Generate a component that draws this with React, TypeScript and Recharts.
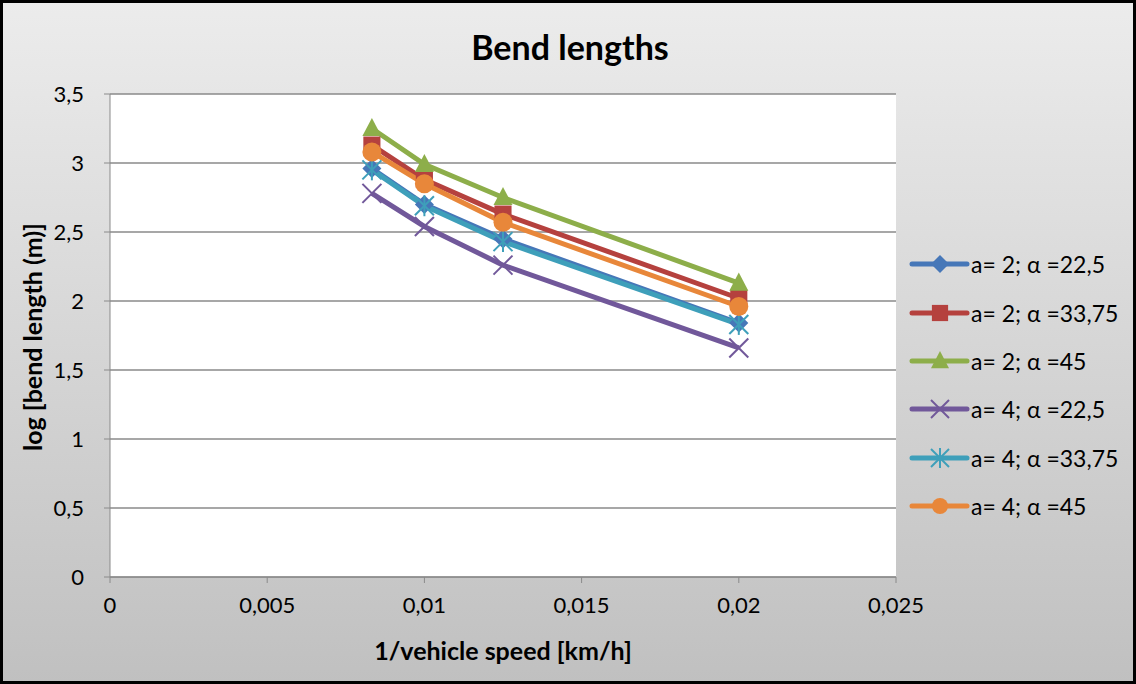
import { LineChart, Line, XAxis, YAxis, CartesianGrid } from 'recharts';

// 1/vehicle speed (speeds 120, 100, 80, 50 km/h)
const xValues = [0.00833, 0.01, 0.0125, 0.02];

const a2Alpha225 = [2.96, 2.7, 2.45, 1.84];
const a2Alpha3375 = [3.13, 2.88, 2.63, 2.02];
const a2Alpha45 = [3.25, 2.99, 2.75, 2.13];
const a4Alpha225 = [2.78, 2.54, 2.26, 1.66];
const a4Alpha3375 = [2.95, 2.69, 2.43, 1.83];
const a4Alpha45 = [3.08, 2.85, 2.57, 1.96];

const xTicks = [0, 0.005, 0.01, 0.015, 0.02, 0.025];
const yTicks = [0, 0.5, 1, 1.5, 2, 2.5, 3, 3.5];

const series = [
  { key: 's1', name: 'a= 2; α =22,5', values: a2Alpha225, color: '#4677B8', shape: 'diamond' },
  { key: 's2', name: 'a= 2; α =33,75', values: a2Alpha3375, color: '#B5413E', shape: 'square' },
  { key: 's3', name: 'a= 2; α =45', values: a2Alpha45, color: '#8DAE4A', shape: 'triangle' },
  { key: 's4', name: 'a= 4; α =22,5', values: a4Alpha225, color: '#71589A', shape: 'x' },
  { key: 's5', name: 'a= 4; α =33,75', values: a4Alpha3375, color: '#3E9FBA', shape: 'star' },
  { key: 's6', name: 'a= 4; α =45', values: a4Alpha45, color: '#E8873A', shape: 'circle' },
];

const chartData = xValues.map((x, i) => {
  const row: any = { x };
  series.forEach((s) => {
    row[s.key] = s.values[i];
  });
  return row;
});

const FONT = 'Lato, "Open Sans", sans-serif';
const fmt = (v: number) => String(v).replace('.', ',');

function Marker({ shape, color, cx, cy, s }: { shape: string; color: string; cx: number; cy: number; s: number }) {
  switch (shape) {
    case 'diamond':
      return <polygon points={`${cx},${cy - s} ${cx + s},${cy} ${cx},${cy + s} ${cx - s},${cy}`} fill={color} />;
    case 'square':
      return <rect x={cx - s * 0.9} y={cy - s * 0.9} width={s * 1.8} height={s * 1.8} fill={color} />;
    case 'triangle':
      return <polygon points={`${cx},${cy - s * 1.1} ${cx + s},${cy + s * 0.8} ${cx - s},${cy + s * 0.8}`} fill={color} />;
    case 'x':
      return (
        <g stroke={color} strokeWidth={2}>
          <line x1={cx - s} y1={cy - s} x2={cx + s} y2={cy + s} />
          <line x1={cx - s} y1={cy + s} x2={cx + s} y2={cy - s} />
        </g>
      );
    case 'star':
      return (
        <g stroke={color} strokeWidth={2}>
          <line x1={cx - s} y1={cy - s} x2={cx + s} y2={cy + s} />
          <line x1={cx - s} y1={cy + s} x2={cx + s} y2={cy - s} />
          <line x1={cx} y1={cy - s * 1.1} x2={cx} y2={cy + s * 1.1} />
        </g>
      );
    default:
      return <circle cx={cx} cy={cy} r={s} fill={color} />;
  }
}

const makeDot = (shape: string, color: string) => (props: any) => {
  const { cx, cy, index } = props;
  if (cx == null || cy == null) return <g key={index} />;
  return (
    <g key={index}>
      <Marker shape={shape} color={color} cx={cx} cy={cy} s={9.5} />
    </g>
  );
};

const ChartLegend = () => (
  <div style={{ position: 'absolute', left: 908, top: 240, fontFamily: FONT, fontSize: 23, color: '#000' }}>
    {series.map((s) => (
      <div key={s.key} style={{ display: 'flex', alignItems: 'center', height: 48.4 }}>
        <svg width={62} height={24} style={{ marginRight: 1 }}>
          <line x1={4} y1={12} x2={59} y2={12} stroke={s.color} strokeWidth={5} strokeLinecap="round" />
          <Marker shape={s.shape} color={s.color} cx={32} cy={12} s={s.shape === 'circle' ? 8 : 9} />
        </svg>
        <span>{s.name}</span>
      </div>
    ))}
  </div>
);

export default function App() {
  return (
    <div
      style={{
        position: 'relative',
        width: 1136,
        height: 684,
        background: 'linear-gradient(to bottom, #ececec 0%, #c0c0c0 100%)',
        fontFamily: FONT,
      }}
    >
      <style>{'body{margin:0}'}</style>
      <LineChart width={1136} height={684} data={chartData} margin={{ top: 94, right: 240, left: 0, bottom: 57 }}>
        <CartesianGrid vertical={false} stroke="#8a8a8a" strokeWidth={1.5} fill="#ffffff" />
        <XAxis
          dataKey="x"
          type="number"
          domain={[0, 0.025]}
          ticks={xTicks}
          tickFormatter={fmt}
          height={50}
          stroke="#8a8a8a"
          tickSize={6}
          tickMargin={14}
          tick={{ fill: '#000', fontSize: 22, fontFamily: FONT }}
          allowDataOverflow
        />
        <YAxis
          type="number"
          domain={[0, 3.5]}
          ticks={yTicks}
          tickFormatter={fmt}
          width={110}
          stroke="#8a8a8a"
          tickSize={6}
          tickMargin={20}
          tick={{ fill: '#000', fontSize: 22, fontFamily: FONT }}
        />
        {series.map((s) => (
          <Line
            key={s.key}
            dataKey={s.key}
            name={s.name}
            type="linear"
            stroke={s.color}
            strokeWidth={5}
            dot={makeDot(s.shape, s.color)}
            activeDot={false}
            isAnimationActive={false}
          />
        ))}
      </LineChart>
      <ChartLegend />
      <div
        style={{
          position: 'absolute',
          left: 0,
          width: 1136,
          top: 26,
          textAlign: 'center',
          fontSize: 34,
          fontWeight: 'bold',
          paddingLeft: 2,
        }}
      >
        Bend lengths
      </div>
      <div
        style={{
          position: 'absolute',
          left: 110,
          width: 786,
          top: 635,
          textAlign: 'center',
          fontSize: 25,
          fontWeight: 'bold',
        }}
      >
        1/vehicle speed [km/h]
      </div>
      <div
        style={{
          position: 'absolute',
          left: 32,
          top: 337,
          transform: 'translate(-50%, -50%) rotate(-90deg)',
          whiteSpace: 'nowrap',
          fontSize: 25,
          fontWeight: 'bold',
        }}
      >
        log [bend length (m)]
      </div>
      <div
        style={{
          position: 'absolute',
          inset: 0,
          border: '3px solid #000',
          pointerEvents: 'none',
        }}
      />
    </div>
  );
}
